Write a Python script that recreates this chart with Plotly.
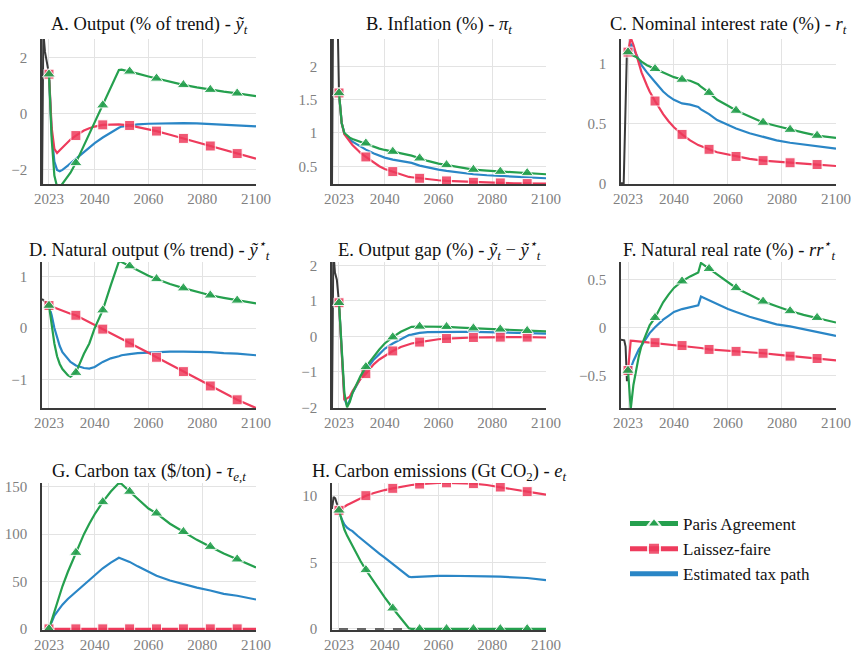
import plotly.graph_objects as go

# ---------------- data ----------------
YEARS = [2023, 2024, 2025, 2026, 2027, 2028, 2030, 2031, 2033, 2036, 2038, 2040, 2043, 2046,
         2049, 2050, 2053, 2056, 2060, 2063, 2068, 2073, 2078, 2083, 2088, 2093, 2100]
MARKER_YEARS = [2023, 2033, 2043, 2053, 2063, 2073, 2083, 2093]
X_TICKS = [2023, 2040, 2060, 2080, 2100]

# A. Output
A_PARIS = [1.4, -0.9, -2.2, -2.6, -2.62, -2.5, -2.25, -2.1, -1.75, -1.13, -0.72, -0.31, 0.3, 0.88, 1.55, 1.56,
           1.5, 1.42, 1.32, 1.25, 1.12, 1.02, 0.93, 0.85, 0.78, 0.72, 0.62]
A_LAISSEZ = [1.4, -0.5, -1.25, -1.4, -1.3, -1.2, -1.0, -0.92, -0.78, -0.6, -0.52, -0.46, -0.4, -0.38, -0.38, -0.39,
             -0.42, -0.48, -0.55, -0.62, -0.75, -0.88, -1.01, -1.15, -1.28, -1.42, -1.6]
A_EST = [1.4, -0.7, -1.7, -2.0, -2.05, -2.0, -1.85, -1.77, -1.58, -1.35, -1.2, -1.05, -0.85, -0.66, -0.5, -0.46,
         -0.41, -0.38, -0.36, -0.35, -0.34, -0.34, -0.35, -0.37, -0.39, -0.41, -0.45]
A_PRE_X = [2020.4, 2020.9, 2021.5, 2022.2, 2023]
A_PRE_Y = [-2.7, 2.9, 2.2, 1.8, 1.4]

# B. Inflation
B_PARIS = [1.6, 1.15, 1.0, 0.96, 0.93, 0.91, 0.88, 0.87, 0.845, 0.79, 0.765, 0.745, 0.72, 0.70, 0.675, 0.66,
           0.62, 0.58, 0.54, 0.52, 0.48, 0.45, 0.435, 0.42, 0.41, 0.40, 0.38]
B_LAISSEZ = [1.6, 1.15, 0.98, 0.92, 0.87, 0.82, 0.74, 0.7, 0.64, 0.55, 0.5, 0.46, 0.42, 0.37, 0.34, 0.335,
             0.32, 0.30, 0.29, 0.28, 0.27, 0.26, 0.255, 0.25, 0.245, 0.24, 0.24]
B_EST = [1.6, 1.15, 0.99, 0.94, 0.9, 0.87, 0.82, 0.79, 0.75, 0.69, 0.66, 0.63, 0.6, 0.58, 0.56, 0.55,
         0.51, 0.48, 0.45, 0.43, 0.40, 0.38, 0.365, 0.355, 0.34, 0.335, 0.32]
B_PRE_X = [2020.4, 2020.9, 2021.6, 2022.4, 2023]
B_PRE_Y = [0.22, 3.5, 3.3, 2.9, 1.6]

# C. Nominal interest rate
C_PARIS = [1.1, 1.09, 1.07, 1.06, 1.04, 1.02, 0.99, 0.98, 0.96, 0.93, 0.91, 0.89, 0.87, 0.86, 0.83, 0.81,
           0.76, 0.7, 0.65, 0.61, 0.56, 0.51, 0.48, 0.45, 0.425, 0.40, 0.38]
C_LAISSEZ = [1.1, 1.22, 1.16, 1.08, 1.0, 0.93, 0.82, 0.77, 0.69, 0.58, 0.52, 0.47, 0.41, 0.36, 0.32, 0.31,
             0.285, 0.26, 0.24, 0.225, 0.205, 0.19, 0.18, 0.172, 0.165, 0.157, 0.145]
C_EST = [1.1, 1.17, 1.13, 1.08, 1.03, 0.99, 0.93, 0.9, 0.85, 0.77, 0.73, 0.7, 0.67, 0.66, 0.64, 0.62,
         0.58, 0.53, 0.49, 0.46, 0.42, 0.39, 0.36, 0.34, 0.325, 0.31, 0.29]
C_PRE_X = [2020.4, 2021.4, 2022.6, 2023]
C_PRE_Y = [0.0, 0.0, 1.12, 1.1]

# D. Natural output
D_PARIS = [0.44, 0.05, -0.3, -0.55, -0.7, -0.8, -0.92, -0.95, -0.87, -0.5, -0.3, 0.0, 0.35, 0.84, 1.3, 1.29,
           1.21, 1.12, 1.02, 0.96, 0.86, 0.78, 0.71, 0.64, 0.59, 0.54, 0.48]
D_LAISSEZ = [0.44, 0.42, 0.39, 0.37, 0.35, 0.33, 0.295, 0.28, 0.25, 0.17, 0.11, 0.06, -0.02, -0.1, -0.18, -0.21,
             -0.29, -0.37, -0.48, -0.57, -0.71, -0.85, -0.99, -1.13, -1.27, -1.4, -1.56]
D_EST = [0.44, 0.25, 0.0, -0.2, -0.35, -0.47, -0.61, -0.66, -0.73, -0.78, -0.79, -0.76, -0.66, -0.59, -0.55, -0.53,
         -0.51, -0.49, -0.48, -0.47, -0.46, -0.46, -0.46, -0.47, -0.49, -0.5, -0.53]
D_PRE_X = [2020.4, 2023]
D_PRE_Y = [0.57, 0.44]

# E. Output gap
E_PARIS = [0.95, -0.3, -1.6, -2.0, -1.85, -1.6, -1.25, -1.12, -0.86, -0.55, -0.37, -0.2, -0.02, 0.13, 0.25, 0.27,
           0.28, 0.28, 0.275, 0.27, 0.25, 0.23, 0.215, 0.2, 0.18, 0.16, 0.14]
E_LAISSEZ = [0.95, -0.4, -1.8, -1.75, -1.7, -1.55, -1.3, -1.2, -1.05, -0.78, -0.65, -0.55, -0.41, -0.3, -0.22, -0.2,
             -0.16, -0.12, -0.08, -0.06, -0.04, -0.03, -0.025, -0.02, -0.02, -0.02, -0.03]
E_EST = [0.95, -0.35, -1.75, -1.95, -1.8, -1.6, -1.3, -1.18, -0.95, -0.65, -0.5, -0.35, -0.2, -0.07, 0.04, 0.05,
         0.1, 0.12, 0.13, 0.13, 0.13, 0.13, 0.12, 0.11, 0.1, 0.1, 0.08]
E_PRE_X = [2020.4, 2020.9, 2021.5, 2022.2, 2023]
E_PRE_Y = [-2.05, 2.4, 1.8, 1.6, 0.95]

# F. Natural real rate
F_PARIS = [-0.45, -0.85, -0.6, -0.43, -0.3, -0.19, -0.04, 0.02, 0.1, 0.26, 0.34, 0.41, 0.48, 0.53, 0.57, 0.67,
           0.61, 0.55, 0.47, 0.41, 0.34, 0.27, 0.22, 0.17, 0.13, 0.1, 0.05]
F_LAISSEZ = [-0.45, -0.14, -0.142, -0.145, -0.148, -0.15, -0.155, -0.157, -0.16, -0.17, -0.175, -0.18, -0.19, -0.2,
             -0.21, -0.215, -0.23, -0.235, -0.245, -0.25, -0.26, -0.27, -0.285, -0.3, -0.31, -0.325, -0.345]
F_EST = [-0.45, -0.43, -0.35, -0.29, -0.23, -0.19, -0.1, -0.06, 0.0, 0.08, 0.12, 0.16, 0.19, 0.21, 0.23, 0.32,
         0.28, 0.24, 0.19, 0.16, 0.11, 0.07, 0.03, 0.01, -0.02, -0.05, -0.09]
F_PRE_X = [2020.4, 2021.6, 2022.1, 2022.6, 2023]
F_PRE_Y = [-0.13, -0.135, -0.2, -0.56, -0.45]

# G. Carbon tax
G_PARIS = [0, 9.5, 19, 28, 37, 45, 60, 67, 80.5, 100, 111, 121, 134, 145, 154, 153,
           145, 137, 127, 122, 111, 102.5, 94, 86.8, 79.5, 73.5, 64.8]
G_LAISSEZ = [0] * 27
G_EST = [0, 8, 14, 18, 22, 25.5, 31.5, 34, 38.5, 47, 52, 56, 64, 70, 75, 74,
         70.7, 66, 60, 56, 51, 47, 43.5, 40.5, 37, 35, 31]

# H. Carbon emissions
H_PARIS = [8.9, 8.1, 7.46, 7.0, 6.6, 6.2, 5.47, 5.1, 4.43, 3.5, 2.9, 2.36, 1.55, 0.8, 0.05, 0.0,
           0, 0, 0, 0, 0, 0, 0, 0, 0, 0, 0]
H_LAISSEZ = [8.9, 9.05, 9.18, 9.3, 9.4, 9.5, 9.68, 9.76, 10.0, 10.2, 10.32, 10.42, 10.55, 10.68, 10.77, 10.8,
             10.87, 10.92, 10.95, 10.96, 10.95, 10.9, 10.8, 10.65, 10.5, 10.3, 10.08]
H_EST = [8.9, 8.25, 7.84, 7.6, 7.45, 7.34, 6.97, 6.8, 6.47, 5.97, 5.65, 5.35, 4.85, 4.35, 3.92, 3.88,
         3.92, 3.95, 3.98, 3.99, 3.99, 3.98, 3.95, 3.92, 3.87, 3.82, 3.66]
H_PRE_X = [2020.4, 2021.0, 2021.6, 2022.3, 2023]
H_PRE_Y = [9.0, 9.9, 9.8, 9.4, 8.9]
H_ZERO_X = [2023, 2100]
H_ZERO_Y = [0, 0]

# ---------------- styling ----------------
W, H = 851, 652
GREEN, RED, BLUE, DARK = "#25a04e", "#ee3b5c", "#2a86c6", "#3a3a3a"
SERIF = "Liberation Serif, DejaVu Serif, serif"
COLS = [(42, 256), (332, 546), (621, 836)]
ROWS = [(39, 184), (262, 408), (483, 630)]
TITLE_Y = [25.5, 249, 472]
XRANGE = [2020.4, 2100]

panels = [
    dict(title="A. Output (% of trend) - <i>ỹ<sub>t</sub></i>", p=A_PARIS, l=A_LAISSEZ, e=A_EST,
         px=A_PRE_X, py=A_PRE_Y, yr=[-2.5, 2.65], yt=[-2, 0, 2]),
    dict(title="B. Inflation (%) - <i>π<sub>t</sub></i>", p=B_PARIS, l=B_LAISSEZ, e=B_EST,
         px=B_PRE_X, py=B_PRE_Y, yr=[0.234, 2.41], yt=[0.5, 1, 1.5, 2]),
    dict(title="C. Nominal interest rate (%) - <i>r<sub>t</sub></i>", p=C_PARIS, l=C_LAISSEZ, e=C_EST,
         px=C_PRE_X, py=C_PRE_Y, yr=[-0.006, 1.21], yt=[0, 0.5, 1]),
    dict(title="D. Natural output (% trend) - <i>ỹ<sup>⋆</sup><sub>t</sub></i>", p=D_PARIS, l=D_LAISSEZ, e=D_EST,
         px=D_PRE_X, py=D_PRE_Y, yr=[-1.56, 1.29], yt=[-1, 0, 1]),
    dict(title="E. Output gap (%) - <i>ỹ<sub>t</sub></i> − <i>ỹ<sup>⋆</sup><sub>t</sub></i>", p=E_PARIS, l=E_LAISSEZ, e=E_EST,
         px=E_PRE_X, py=E_PRE_Y, yr=[-2.02, 2.1], yt=[-2, -1, 0, 1, 2]),
    dict(title="F. Natural real rate (%) - <i>rr<sup>⋆</sup><sub>t</sub></i>", p=F_PARIS, l=F_LAISSEZ, e=F_EST,
         px=F_PRE_X, py=F_PRE_Y, yr=[-0.84, 0.68], yt=[-0.5, 0, 0.5]),
    dict(title="G. Carbon tax ($/ton) - <i>τ<sub>e,t</sub></i>", p=G_PARIS, l=G_LAISSEZ, e=G_EST,
         px=None, py=None, yr=[-1.2, 154], yt=[0, 50, 100, 150]),
    dict(title="H. Carbon emissions (Gt CO<sub>2</sub>) - <i>e<sub>t</sub></i>", p=H_PARIS, l=H_LAISSEZ, e=H_EST,
         px=H_PRE_X, py=H_PRE_Y, yr=[-0.08, 10.95], yt=[0, 5, 10]),
]

fig = go.Figure()
layout = dict(
    width=W, height=H, margin=dict(l=0, r=0, t=0, b=0),
    paper_bgcolor="white", plot_bgcolor="white",
    font=dict(family=SERIF, size=15, color="#222"),
    showlegend=True,
    legend=dict(x=625 / W, y=1 - 506 / H, xanchor="left", yanchor="top",
                font=dict(family=SERIF, size=17, color="#111"),
                itemsizing="constant", itemwidth=48, tracegroupgap=0,
                bgcolor="rgba(0,0,0,0)"),
    annotations=[],
)

msize_tri = [11 if y in MARKER_YEARS else 0 for y in YEARS]
msize_sq = [10 if y in MARKER_YEARS else 0 for y in YEARS]

for i, pn in enumerate(panels):
    r, c = divmod(i, 3)
    k = "" if i == 0 else str(i + 1)
    xa, ya = "x" + k, "y" + k
    x0, x1 = COLS[c]
    y0, y1 = ROWS[r]
    layout["xaxis" + k] = dict(
        domain=[x0 / W, x1 / W], anchor=ya, range=XRANGE, tickvals=X_TICKS,
        showgrid=True, gridcolor="#e3e3e3", gridwidth=1, zeroline=False,
        showline=True, linecolor=DARK, linewidth=1.5, ticks="", ticklen=0,
        tickfont=dict(family=SERIF, size=15, color="#808080"), automargin=False,
        ticklabelstandoff=0,
    )
    layout["yaxis" + k] = dict(
        domain=[1 - y1 / H, 1 - y0 / H], anchor=xa, range=pn["yr"], tickvals=pn["yt"],
        showgrid=True, gridcolor="#e3e3e3", gridwidth=1, zeroline=False,
        showline=True, linecolor=DARK, linewidth=1.5, ticks="", ticklen=0,
        tickfont=dict(family=SERIF, size=15, color="#808080"), automargin=False,
        ticklabelstandoff=10,
    )
    layout["annotations"].append(dict(
        text=pn["title"], x=(x0 + x1) / 2 / W, y=1 - TITLE_Y[r] / H, xref="paper", yref="paper",
        xanchor="center", yanchor="middle", showarrow=False,
        font=dict(family=SERIF, size=18.5, color="#111"),
    ))
    if pn["px"] is not None:
        fig.add_trace(go.Scatter(x=pn["px"], y=pn["py"], mode="lines", xaxis=xa, yaxis=ya,
                                 line=dict(color=DARK, width=2), showlegend=False, hoverinfo="skip"))
    if i == 7:
        fig.add_trace(go.Scatter(x=H_ZERO_X, y=H_ZERO_Y, mode="lines", xaxis=xa, yaxis=ya,
                                 line=dict(color=DARK, width=1.5, dash="dash"), showlegend=False,
                                 hoverinfo="skip"))
    fig.add_trace(go.Scatter(x=YEARS, y=pn["e"], mode="lines", xaxis=xa, yaxis=ya,
                             name="Estimated tax path", legendrank=3,
                             line=dict(color=BLUE, width=2.2), showlegend=(i == 0)))
    fig.add_trace(go.Scatter(x=YEARS, y=pn["l"], mode="lines+markers", xaxis=xa, yaxis=ya,
                             name="Laissez-faire", legendrank=2,
                             line=dict(color=RED, width=2.2),
                             marker=dict(symbol="square", size=msize_sq, color=RED, opacity=0.85),
                             showlegend=(i == 0)))
    fig.add_trace(go.Scatter(x=YEARS, y=pn["p"], mode="lines+markers", xaxis=xa, yaxis=ya,
                             name="Paris Agreement", legendrank=1,
                             line=dict(color=GREEN, width=2.2),
                             marker=dict(symbol="triangle-up", size=msize_tri, color=GREEN, opacity=0.9),
                             showlegend=(i == 0)))

fig.update_layout(**layout)
fig.write_html("out.html", config={"displayModeBar": False},
               post_script="document.body.style.margin='0';document.body.style.overflow='hidden';")
